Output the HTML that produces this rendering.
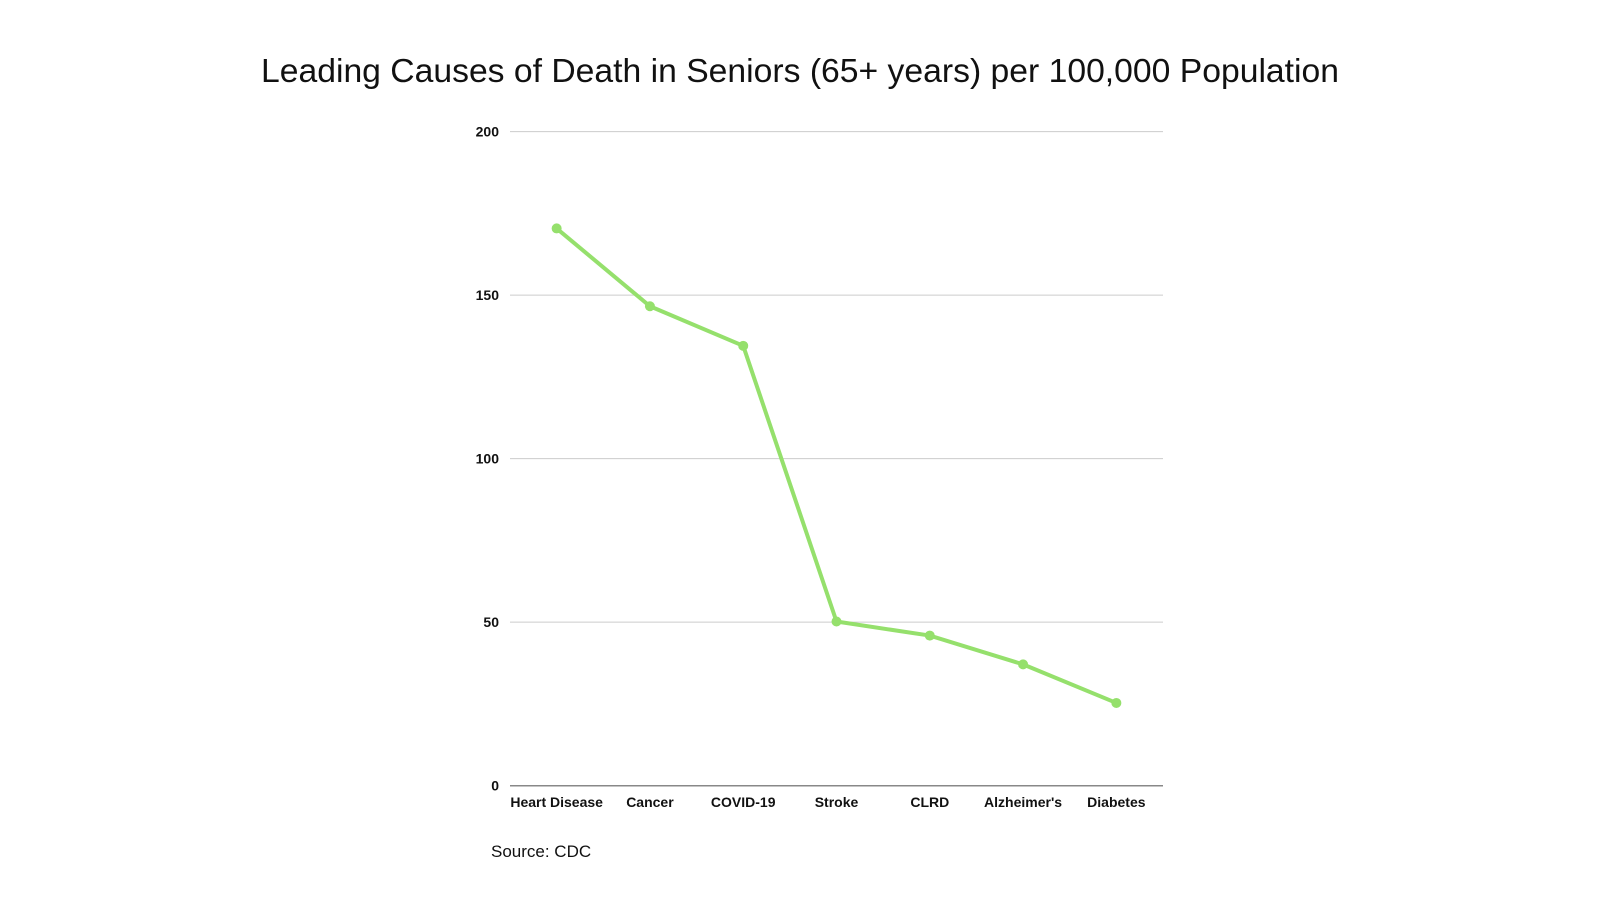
<!DOCTYPE html>
<html><head><meta charset="utf-8"><style>
html,body{margin:0;padding:0;background:#fff;}
svg{display:block;font-family:"Liberation Sans",sans-serif;}
</style></head><body>
<svg id="chart" width="1600" height="900" viewBox="0 0 1600 900">
<text x="261" y="82" font-size="33" fill="#111" textLength="1078" lengthAdjust="spacingAndGlyphs">Leading Causes of Death in Seniors (65+ years) per 100,000 Population</text>
<g id="grid"></g>
<g id="xlabels"></g>
<g id="series"></g>
<text x="491" y="857" font-size="17" fill="#111">Source: CDC</text>
</svg>
<script>
const categories = ["Heart Disease","Cancer","COVID-19","Stroke","CLRD","Alzheimer's","Diabetes"];
const values = [170.4,146.6,134.5,50.2,45.9,37.1,25.3];
const yTicks = [0,50,100,150,200];
const NS="http://www.w3.org/2000/svg";
const x0=510,x1=1163,yBase=785.7,yTop=131.6,yMax=200;
function yPos(v){return yBase-(v/yMax)*(yBase-yTop);}
function xPos(i){const bw=(x1-x0)/categories.length;return x0+bw*(i+0.5);}
function mk(t,a,p){const e=document.createElementNS(NS,t);for(const k in a)e.setAttribute(k,a[k]);p.appendChild(e);return e;}
const grid=document.getElementById('grid');
yTicks.forEach(v=>{
 const l=mk('line',{x1:x0,x2:x1,y1:yPos(v),y2:yPos(v),stroke:v===0?'#888':'#ccc','stroke-width':v===0?1.5:1},grid);
 
 
 const t=mk('text',{x:499,y:yPos(v)+5,'text-anchor':'end','font-size':14,'font-weight':'bold',fill:'#111'},grid);
 t.textContent=v;
 
 
});
const xl=document.getElementById('xlabels');
categories.forEach((c,i)=>{
 const t=mk('text',{x:xPos(i),y:807,'text-anchor':'middle','font-size':14,'font-weight':'bold',fill:'#111'},xl);
 t.textContent=c;
 
 
});
const s=document.getElementById('series');
const pl=mk('polyline',{points:values.map((v,i)=>xPos(i)+','+yPos(v)).join(' '),fill:'none',stroke:'#95e06c','stroke-width':4,'stroke-linejoin':'round'},s);


values.forEach((v,i)=>{
 const c=mk('circle',{cx:xPos(i),cy:yPos(v),r:5,fill:'#95e06c'},s);
 
 
});
</script>
</body></html>
